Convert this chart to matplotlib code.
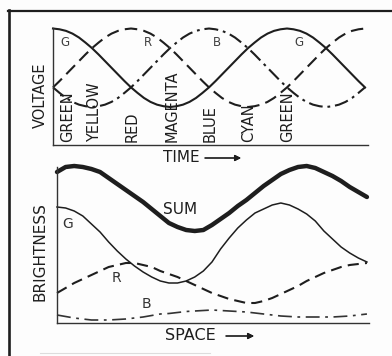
import matplotlib.pyplot as plt
from matplotlib.lines import Line2D

plt.rcParams['font.family'] = 'DejaVu Sans'
plt.rcParams['lines.scale_dashes'] = False

W, H = 392, 356
INK = '#1e1e1e'

# gun voltages against time (phase in degrees, every 10)
phase = list(range(0, 481, 10))
g_volt = [1.00, 0.98, 0.94, 0.87, 0.77, 0.64, 0.50, 0.34, 0.17, 0.00,
          -0.17, -0.34, -0.50, -0.64, -0.77, -0.87, -0.94, -0.98, -1.00,
          -0.98, -0.94, -0.87, -0.77, -0.64, -0.50, -0.34, -0.17, 0.00,
          0.17, 0.34, 0.50, 0.64, 0.77, 0.87, 0.94, 0.98, 1.00,
          0.98, 0.94, 0.87, 0.77, 0.64, 0.50, 0.34, 0.17, 0.00, -0.17, -0.34, -0.50]
r_volt = [-0.50, -0.34, -0.17, 0.00, 0.17, 0.34, 0.50, 0.64, 0.77, 0.87, 0.94, 0.98, 1.00,
          0.98, 0.94, 0.87, 0.77, 0.64, 0.50, 0.34, 0.17, 0.00,
          -0.17, -0.34, -0.50, -0.64, -0.77, -0.87, -0.94, -0.98, -1.00,
          -0.98, -0.94, -0.87, -0.77, -0.64, -0.50, -0.34, -0.17, 0.00,
          0.17, 0.34, 0.50, 0.64, 0.77, 0.87, 0.94, 0.98, 1.00]
b_volt = [-0.50, -0.64, -0.77, -0.87, -0.94, -0.98, -1.00,
          -0.98, -0.94, -0.87, -0.77, -0.64, -0.50, -0.34, -0.17, 0.00,
          0.17, 0.34, 0.50, 0.64, 0.77, 0.87, 0.94, 0.98, 1.00,
          0.98, 0.94, 0.87, 0.77, 0.64, 0.50, 0.34, 0.17, 0.00,
          -0.17, -0.34, -0.50, -0.64, -0.77, -0.87, -0.94, -0.98, -1.00,
          -0.98, -0.94, -0.87, -0.77, -0.64, -0.50]

hue_names = ['GREEN', 'YELLOW', 'RED', 'MAGENTA', 'BLUE', 'CYAN', 'GREEN']
hue_phase = [22, 64, 122, 184, 242, 301, 361]

# brightness across the screen (half-step positions)
space = [i / 2 for i in range(37)]
g_bright = [116, 115, 112, 107, 99, 91, 81, 72, 64, 57, 51, 46, 42, 40, 40, 42, 46, 52, 61,
            74, 85, 95, 103, 110, 114, 118, 120, 118, 114, 109, 102, 92, 84, 76, 70, 65, 61]
r_bright = [30, 35, 40, 44, 48, 52, 56, 58, 60, 60, 58, 56, 52, 49, 46, 42, 38, 34, 30,
            27, 24, 22, 20, 20, 22, 25, 29, 33, 37, 42, 46, 50, 53, 56, 58, 59, 60]
b_bright = [8, 6.5, 5, 4, 3, 3, 3, 3.5, 4, 5, 6, 7.5, 9, 9.5, 10.5, 11.5, 12, 12.5, 13,
            12.5, 12, 11.5, 11, 10, 9, 8, 7, 6.5, 6, 6, 6, 6, 6, 6.5, 7, 8, 9]
sum_bright = [151, 156, 157, 156, 154, 151, 145, 139, 133, 127, 121, 114, 107, 100, 96, 93, 92, 93, 98,
              104, 110, 117, 123, 130, 137, 143, 149, 153, 156, 157, 155, 151, 147, 142, 136, 131, 126]


def fx(px):
    return px / W


def fy(py):
    return 1 - py / H


fig = plt.figure(figsize=(W / 100, H / 100), dpi=100)
fig.patch.set_facecolor('#fdfdfd')

# frame round the figure (top and left edges only)
fig.add_artist(Line2D([fx(8), fx(392)], [fy(11), fy(11)], color=INK, lw=1.6))
fig.add_artist(Line2D([fx(9), fx(9)], [fy(10), fy(356)], color=INK, lw=1.9))
fig.add_artist(Line2D([fx(40), fx(210)], [fy(353), fy(353)], color='#dddddd', lw=0.8))

# --- voltage vs time ---
ax1 = fig.add_axes([fx(53), fy(145), (368 - 53) / W, (145 - 28) / H])
ax1.plot(phase, g_volt, color=INK, lw=1.5, clip_on=False)
ax1.plot(phase, r_volt, color=INK, lw=1.5, dashes=(9, 4.5), clip_on=False)
ax1.plot(phase, b_volt, color=INK, lw=1.5, dashes=(10, 3.5, 2, 3.5), clip_on=False)
ax1.set_xlim(0, 484.6)
ax1.set_ylim(-1.968, 1.013)

for name, ph in zip(hue_names, hue_phase):
    ax1.text(ph, -1.9, name, rotation=90, ha='center', va='bottom',
             fontsize=10.5, color=INK)

for lab, ph in zip(['G', 'R', 'B', 'G'], [18, 146, 252, 378]):
    ax1.text(ph, 0.64, lab, ha='center', va='center', fontsize=8.5, color='#404040')

# --- brightness vs space ---
ax2 = fig.add_axes([fx(57), fy(323), (369 - 57) / W, (323 - 167) / H])
ax2.plot(space, sum_bright, color=INK, lw=3.2, clip_on=False, solid_capstyle='round')
ax2.plot(space, g_bright, color=INK, lw=1.1, clip_on=False)
ax2.plot(space, r_bright, color=INK, lw=1.5, dashes=(8, 4.5), clip_on=False)
ax2.plot(space, b_bright, color='#333333', lw=1.2, dashes=(10, 4, 2, 4), clip_on=False)
ax2.set_xlim(0, 18.12)
ax2.set_ylim(0, 156)

for ax in (ax1, ax2):
    ax.set_facecolor('none')
    for side in ('top', 'right'):
        ax.spines[side].set_visible(False)
    for side in ('left', 'bottom'):
        ax.spines[side].set_color('#333333')
        ax.spines[side].set_linewidth(1.0)
    ax.set_xticks([])
    ax.set_yticks([])

fig.text(fx(40), fy(95), 'VOLTAGE', rotation=90, ha='center', va='center',
         fontsize=10.5, color=INK)
fig.text(fx(40), fy(252), 'BRIGHTNESS', rotation=90, ha='center', va='center',
         fontsize=11, color=INK)
fig.text(fx(163), fy(158), 'TIME', ha='left', va='center', fontsize=11, color=INK)
fig.text(fx(165), fy(336), 'SPACE', ha='left', va='center', fontsize=11.5, color=INK)
fig.text(fx(180), fy(210), 'SUM', ha='center', va='center', fontsize=11, color=INK)
fig.text(fx(68), fy(224), 'G', ha='center', va='center', fontsize=10, color='#333333')
fig.text(fx(116), fy(278), 'R', ha='center', va='center', fontsize=10, color='#333333')
fig.text(fx(146), fy(304), 'B', ha='center', va='center', fontsize=10, color='#333333')

for x0, x1, y in [(205, 241, 158), (226, 254, 336)]:
    fig.add_artist(plt.annotate('', xy=(fx(x1), fy(y)), xytext=(fx(x0), fy(y)),
                                xycoords='figure fraction',
                                arrowprops=dict(arrowstyle='-|>', color=INK, lw=0.9,
                                                mutation_scale=9, shrinkA=0, shrinkB=0)))

fig.savefig('out.png', dpi=100, facecolor=fig.get_facecolor())
